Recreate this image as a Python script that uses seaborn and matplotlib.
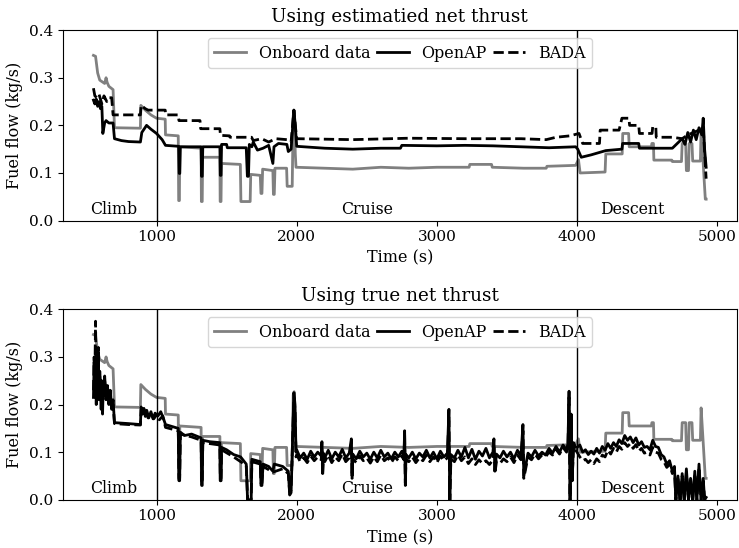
import matplotlib
matplotlib.use('Agg')
import matplotlib.pyplot as plt
import seaborn as sns

# Onboard (measured) fuel flow, same in both panels
onboard_t = [550, 565, 580, 595, 630, 640, 648, 660, 690, 700, 885, 888, 920, 960, 1000, 1062, 1064,
             1155, 1158, 1163, 1166, 1318, 1320, 1326, 1329, 1452, 1454, 1460, 1463, 1598, 1602, 1668,
             1672, 1740, 1745, 1752, 1757, 1830, 1834, 1840, 1845, 1928, 1932, 1968, 1975, 1982, 1990,
             1995, 2200, 2400, 2600, 2800, 3000, 3230, 3235, 3390, 3395, 3620, 3780, 3785, 3990, 4010,
             4022, 4200, 4205, 4322, 4326, 4368, 4372, 4530, 4534, 4545, 4548, 4676, 4680, 4745, 4750,
             4775, 4780, 4795, 4800, 4820, 4825, 4880, 4885, 4900, 4915, 4921]
onboard_v = [0.347, 0.345, 0.31, 0.295, 0.288, 0.30, 0.29, 0.282, 0.275, 0.195, 0.194, 0.242, 0.232,
             0.222, 0.215, 0.213, 0.180, 0.178, 0.042, 0.042, 0.155, 0.152, 0.040, 0.040, 0.133, 0.133,
             0.040, 0.040, 0.120, 0.118, 0.040, 0.040, 0.097, 0.095, 0.057, 0.057, 0.108, 0.105, 0.055,
             0.055, 0.110, 0.110, 0.072, 0.072, 0.220, 0.227, 0.140, 0.112, 0.110, 0.108, 0.112, 0.110,
             0.112, 0.112, 0.118, 0.118, 0.112, 0.110, 0.110, 0.114, 0.116, 0.128, 0.100, 0.102, 0.140,
             0.140, 0.183, 0.183, 0.155, 0.155, 0.162, 0.162, 0.127, 0.127, 0.124, 0.124, 0.162, 0.162,
             0.105, 0.105, 0.162, 0.162, 0.125, 0.125, 0.193, 0.120, 0.045, 0.045]

# Estimated net thrust
est_openap_t = [550, 560, 570, 580, 590, 600, 610, 617, 630, 640, 660, 690, 700, 750, 800, 885, 895, 929,
                960, 1000, 1040, 1064, 1158, 1162, 1166, 1170, 1318, 1321, 1326, 1330, 1452, 1455, 1460,
                1464, 1500, 1505, 1640, 1648, 1656, 1662, 1680, 1690, 1720, 1760, 1800, 1830, 1838, 1870,
                1930, 1940, 1960, 1980, 1990, 2000, 2200, 2400, 2600, 2740, 2750, 3000, 3200, 3400, 3600,
                3800, 3990, 4005, 4030, 4100, 4205, 4320, 4325, 4440, 4445, 4680, 4750, 4770, 4790, 4810,
                4830, 4850, 4870, 4890, 4900, 4910, 4921]
est_openap_v = [0.253, 0.245, 0.255, 0.240, 0.250, 0.235, 0.240, 0.183, 0.205, 0.210, 0.205, 0.205, 0.172,
                0.168, 0.166, 0.165, 0.185, 0.200, 0.192, 0.183, 0.170, 0.158, 0.156, 0.099, 0.099, 0.155,
                0.155, 0.093, 0.093, 0.155, 0.155, 0.095, 0.095, 0.160, 0.160, 0.153, 0.153, 0.093, 0.093,
                0.160, 0.155, 0.165, 0.148, 0.152, 0.158, 0.120, 0.155, 0.162, 0.160, 0.145, 0.150, 0.232,
                0.200, 0.156, 0.152, 0.150, 0.152, 0.152, 0.158, 0.157, 0.158, 0.157, 0.155, 0.153, 0.155,
                0.150, 0.133, 0.138, 0.147, 0.150, 0.162, 0.162, 0.152, 0.152, 0.172, 0.160, 0.185, 0.165,
                0.190, 0.170, 0.195, 0.180, 0.215, 0.150, 0.112]

est_bada_t = [550, 560, 575, 590, 610, 625, 645, 660, 680, 690, 885, 890, 920, 940, 1062, 1065, 1155, 1160,
              1310, 1315, 1452, 1456, 1520, 1525, 1678, 1690, 1750, 1800, 1850, 1930, 1960, 1980, 1990,
              2000, 2400, 2800, 3200, 3600, 3780, 3850, 3950, 4014, 4040, 4160, 4165, 4300, 4320, 4370,
              4375, 4440, 4445, 4535, 4540, 4562, 4565, 4680, 4750, 4790, 4830, 4870, 4900, 4921]
est_bada_v = [0.278, 0.262, 0.258, 0.265, 0.245, 0.262, 0.250, 0.258, 0.258, 0.222, 0.222, 0.242, 0.235,
              0.232, 0.232, 0.222, 0.222, 0.210, 0.210, 0.193, 0.193, 0.179, 0.178, 0.175, 0.175, 0.168,
              0.172, 0.165, 0.172, 0.170, 0.165, 0.232, 0.200, 0.172, 0.170, 0.173, 0.172, 0.172, 0.170,
              0.175, 0.178, 0.183, 0.162, 0.162, 0.190, 0.190, 0.215, 0.215, 0.200, 0.200, 0.183, 0.183,
              0.197, 0.197, 0.175, 0.175, 0.172, 0.180, 0.185, 0.190, 0.195, 0.088]

# True net thrust: climb part
true_climb_openap_t = [550, 555, 560, 565, 570, 575, 580, 585, 590, 595, 600, 605, 610, 615, 620, 625, 630,
                       640, 650, 660, 670, 680, 690, 700, 800, 885, 890, 900, 910, 920, 930, 945, 960, 975,
                       990, 1010, 1030, 1050, 1064, 1155, 1160, 1165, 1170, 1200, 1250, 1318, 1322, 1326,
                       1330, 1380, 1452, 1455, 1460, 1464, 1500, 1550, 1600, 1640, 1650, 1675, 1680, 1740,
                       1745, 1752, 1760, 1800, 1830, 1840, 1900, 1940, 1950, 1960, 1980, 1988, 1995]
true_climb_openap_v = [0.215, 0.290, 0.220, 0.300, 0.200, 0.280, 0.230, 0.310, 0.210, 0.270, 0.240, 0.190,
                       0.250, 0.180, 0.240, 0.220, 0.260, 0.210, 0.240, 0.200, 0.230, 0.190, 0.210, 0.162,
                       0.160, 0.158, 0.195, 0.180, 0.192, 0.175, 0.188, 0.172, 0.185, 0.170, 0.182, 0.176,
                       0.185, 0.170, 0.158, 0.150, 0.040, 0.040, 0.142, 0.135, 0.138, 0.130, 0.030, 0.030,
                       0.125, 0.122, 0.120, 0.040, 0.040, 0.110, 0.105, 0.095, 0.090, 0.075, -0.005, -0.005,
                       0.085, 0.080, 0.030, 0.030, 0.075, 0.070, 0.060, 0.075, 0.070, 0.060, 0.010, 0.015,
                       0.225, 0.200, 0.100]
true_climb_bada_t = [550, 555, 560, 565, 570, 575, 580, 585, 590, 595, 600, 610, 620, 630, 640, 650, 660,
                     670, 680, 690, 700, 800, 885, 890, 905, 920, 940, 960, 980, 1000, 1020, 1045, 1064,
                     1155, 1160, 1165, 1170, 1250, 1318, 1322, 1326, 1330, 1452, 1455, 1460, 1464, 1550,
                     1640, 1650, 1675, 1680, 1740, 1745, 1752, 1760, 1830, 1900, 1940, 1950, 1960, 1980,
                     1988, 1995]
true_climb_bada_v = [0.230, 0.300, 0.260, 0.375, 0.230, 0.290, 0.250, 0.320, 0.220, 0.260, 0.230, 0.240,
                     0.230, 0.250, 0.220, 0.230, 0.210, 0.220, 0.200, 0.200, 0.160, 0.158, 0.157, 0.190,
                     0.178, 0.186, 0.172, 0.180, 0.170, 0.178, 0.168, 0.176, 0.152, 0.145, 0.045, 0.045,
                     0.138, 0.132, 0.125, 0.035, 0.035, 0.120, 0.115, 0.045, 0.045, 0.105, 0.090, 0.072,
                     0.000, 0.000, 0.080, 0.075, 0.035, 0.035, 0.070, 0.058, 0.065, 0.055, 0.015, 0.020,
                     0.215, 0.190, 0.090]

# True net thrust: cruise part (shared time stamps)
true_cruise_t = [2000, 2025, 2050, 2075, 2100, 2125, 2150, 2175, 2180, 2185,
                 2190, 2200, 2225, 2250, 2275, 2300, 2325, 2350, 2375, 2390,
                 2395, 2400, 2425, 2450, 2475, 2500, 2525, 2550, 2575, 2600,
                 2625, 2650, 2675, 2700, 2725, 2750, 2765, 2770, 2775, 2780,
                 2800, 2825, 2850, 2875, 2900, 2925, 2950, 2975, 3000, 3025,
                 3050, 3075, 3086, 3092, 3100, 3125, 3150, 3175, 3200, 3225,
                 3250, 3275, 3300, 3325, 3350, 3375, 3400, 3407, 3414, 3425,
                 3450, 3475, 3500, 3525, 3550, 3575, 3600, 3614, 3620, 3650,
                 3675, 3700, 3725, 3750, 3775, 3800, 3825, 3850, 3875, 3900,
                 3925, 3935, 3943, 3950, 3958, 3965, 3975, 3990]
true_cruise_openap_v = [0.105, 0.088, 0.098, 0.085, 0.102, 0.090, 0.100, 0.092, 0.122, 0.055,
                        0.098, 0.088, 0.104, 0.086, 0.100, 0.090, 0.106, 0.088, 0.098, 0.128,
                        0.050, 0.096, 0.086, 0.102, 0.090, 0.098, 0.085, 0.100, 0.088, 0.104,
                        0.090, 0.098, 0.086, 0.100, 0.090, 0.102, 0.092, 0.145, 0.035, 0.095,
                        0.088, 0.100, 0.086, 0.098, 0.090, 0.104, 0.088, 0.100, 0.086, 0.102,
                        0.090, 0.098, 0.190, -0.010, 0.095, 0.088, 0.104, 0.090, 0.110, 0.088,
                        0.106, 0.085, 0.102, 0.092, 0.108, 0.088, 0.100, 0.128, 0.060, 0.096,
                        0.088, 0.102, 0.090, 0.100, 0.086, 0.104, 0.092, 0.158, 0.050, 0.098,
                        0.090, 0.104, 0.092, 0.100, 0.094, 0.108, 0.098, 0.112, 0.100, 0.115,
                        0.105, 0.118, 0.228, -0.010, 0.180, 0.040, 0.120, 0.110]
true_cruise_bada_v = [0.095, 0.080, 0.088, 0.078, 0.092, 0.082, 0.090, 0.084, 0.110, 0.050,
                      0.088, 0.080, 0.094, 0.078, 0.090, 0.082, 0.096, 0.080, 0.088, 0.118,
                      0.045, 0.086, 0.078, 0.092, 0.082, 0.088, 0.077, 0.090, 0.080, 0.094,
                      0.082, 0.088, 0.078, 0.090, 0.082, 0.092, 0.084, 0.135, 0.030, 0.086,
                      0.080, 0.090, 0.078, 0.088, 0.082, 0.094, 0.080, 0.090, 0.078, 0.092,
                      0.082, 0.088, 0.175, -0.010, 0.086, 0.080, 0.094, 0.082, 0.090, 0.076,
                      0.086, 0.074, 0.084, 0.076, 0.082, 0.074, 0.084, 0.115, 0.055, 0.080,
                      0.076, 0.086, 0.080, 0.090, 0.078, 0.094, 0.084, 0.145, 0.045, 0.090,
                      0.084, 0.096, 0.086, 0.094, 0.090, 0.100, 0.094, 0.106, 0.096, 0.110,
                      0.100, 0.112, 0.215, -0.010, 0.170, 0.040, 0.112, 0.104]

# True net thrust: descent part (shared time stamps)
true_descent_t = [4000, 4020, 4040, 4060, 4080, 4100, 4120, 4140, 4160, 4180,
                  4200, 4220, 4240, 4260, 4280, 4300, 4320, 4340, 4360, 4380,
                  4400, 4420, 4440, 4460, 4480, 4500, 4520, 4540, 4560, 4580,
                  4600, 4620, 4640, 4660, 4680, 4695, 4705, 4720, 4735, 4750,
                  4765, 4780, 4795, 4810, 4825, 4840, 4855, 4870, 4885, 4900,
                  4910, 4921]
true_descent_openap_v = [0.110, 0.115, 0.100, 0.105, 0.095, 0.102, 0.096, 0.108, 0.098, 0.112,
                         0.104, 0.118, 0.108, 0.120, 0.112, 0.126, 0.118, 0.135, 0.125, 0.132,
                         0.120, 0.130, 0.115, 0.122, 0.110, 0.112, 0.105, 0.125, 0.112, 0.110,
                         0.095, 0.090, 0.075, 0.082, 0.060, 0.070, -0.005, 0.050, -0.005, 0.055,
                         -0.005, 0.065, 0.000, 0.045, -0.005, 0.060, 0.000, 0.075, -0.005, 0.045,
                         0.000, 0.005]
true_descent_bada_v = [0.100, 0.090, 0.082, 0.085, 0.078, 0.084, 0.076, 0.086, 0.080, 0.094,
                       0.090, 0.104, 0.096, 0.108, 0.100, 0.112, 0.106, 0.120, 0.112, 0.118,
                       0.108, 0.116, 0.102, 0.108, 0.098, 0.100, 0.094, 0.110, 0.100, 0.098,
                       0.085, 0.080, 0.068, 0.074, 0.055, 0.062, 0.000, 0.045, 0.000, 0.050,
                       0.000, 0.058, 0.000, 0.040, 0.000, 0.055, 0.000, 0.068, 0.000, 0.040,
                       0.000, 0.005]

phase_x = [693, 2500, 4393]
phase_names = ['Climb', 'Cruise', 'Descent']
phase_bounds = [1000, 4000]

true_openap_t = true_climb_openap_t + true_cruise_t + true_descent_t
true_openap_v = true_climb_openap_v + true_cruise_openap_v + true_descent_openap_v
true_bada_t = true_climb_bada_t + true_cruise_t + true_descent_t
true_bada_v = true_climb_bada_v + true_cruise_bada_v + true_descent_bada_v

plt.rcParams['font.family'] = ['DejaVu Serif']
plt.rcParams['font.size'] = 11.3

fig, axes = plt.subplots(2, 1, figsize=(7.39, 5.48), dpi=100)
fig.subplots_adjust(left=0.085, right=0.997, top=0.945, bottom=0.088, hspace=0.466)

panels = [
    ('Using estimatied net thrust', est_openap_t, est_openap_v, est_bada_t, est_bada_v),
    ('Using true net thrust', true_openap_t, true_openap_v, true_bada_t, true_bada_v),
]

for ax, (title, ot, ov, bt, bv) in zip(axes, panels):
    sns.lineplot(x=onboard_t, y=onboard_v, ax=ax, color='gray', lw=2, sort=False,
                 estimator=None, label='Onboard data')
    sns.lineplot(x=ot, y=ov, ax=ax, color='black', lw=2, sort=False,
                 estimator=None, label='OpenAP')
    sns.lineplot(x=bt, y=bv, ax=ax, color='black', lw=2, sort=False,
                 estimator=None, label='BADA', linestyle='--')
    for b in phase_bounds:
        ax.axvline(b, color='black', lw=1)
    for px, name in zip(phase_x, phase_names):
        ax.text(px, 0.006, name, ha='center', va='bottom', fontsize=11.3)
    ax.set_ylim(0, 0.4)
    ax.set_yticks([0.0, 0.1, 0.2, 0.3, 0.4])
    ax.tick_params(labelsize=11)
    ax.set_xlabel('Time (s)', fontsize=11.5)
    ax.set_ylabel('Fuel flow (kg/s)', fontsize=11.5)
    ax.set_title(title, fontsize=13.2)
    ax.legend(loc='upper center', ncol=3, fontsize=11.5, columnspacing=0.4)

fig.savefig('out.png')
